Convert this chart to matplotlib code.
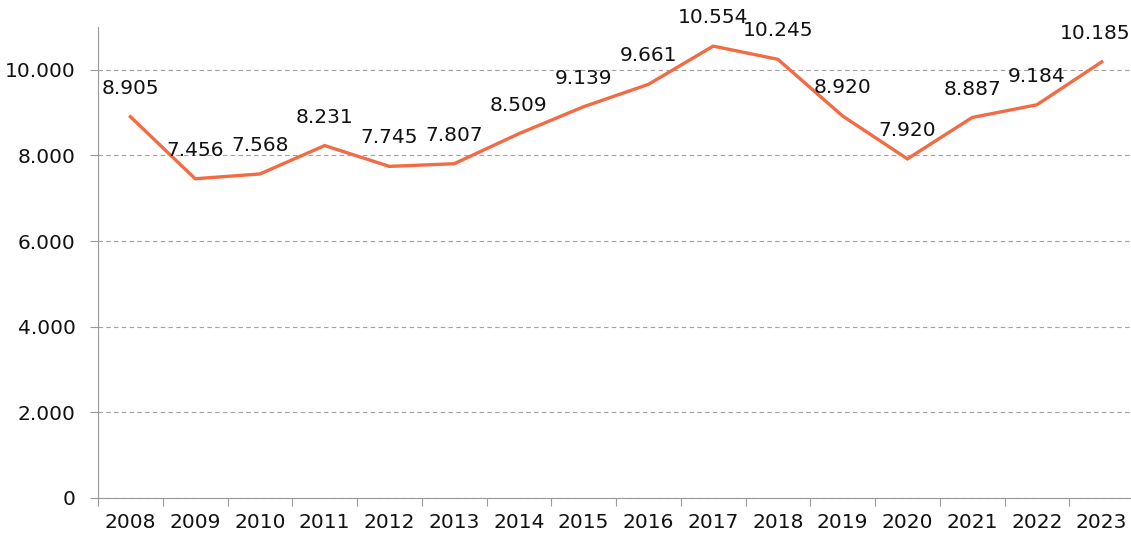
import matplotlib
matplotlib.use('Agg')
import matplotlib.pyplot as plt

years=['2008','2009','2010','2011','2012','2013','2014','2015','2016','2017','2018','2019','2020','2021','2022','2023']
values=[8905,7456,7568,8231,7745,7807,8509,9139,9661,10554,10245,8920,7920,8887,9184,10185]
yticks=[0,2000,4000,6000,8000,10000]

def fmt(v):                 # thousands separator as dot
    return f"{v:,}".replace(',','.')

fig=plt.figure(figsize=(11.31,5.36),dpi=100)
ax=fig.add_axes([0.0867,0.0709,0.9160,0.8787])

x=list(range(len(years)))
ax.plot(x,values,color='#F26B43',linewidth=2.4,solid_joinstyle='miter',zorder=3)

for i,v in zip(x,values):
    dx=-5 if i==len(years)-1 else 0     # keep last label inside the figure
    ax.annotate(fmt(v),(i,v),xytext=(dx,20.5),textcoords='offset points',
                ha='center',va='center',fontsize=14.5,color='#111111')

ax.set_xlim(-0.5,len(years)-0.5)
ax.set_ylim(0,11000)
ax.set_yticks(yticks)
ax.set_yticklabels([fmt(v) for v in yticks])
ax.yaxis.grid(True,linestyle=(0,(4,3)),color='#a0a0a0',linewidth=0.8)
ax.set_axisbelow(True)

# category ticks between years, labels centred
ax.set_xticks([i-0.5 for i in range(len(years)+1)])
ax.set_xticklabels([])
ax.set_xticks(x,minor=True)
ax.set_xticklabels(years,minor=True)
ax.tick_params(axis='x',which='minor',length=0,pad=11,labelsize=14.5,labelcolor='#111111')
ax.tick_params(axis='x',which='major',length=6,color='#999999')
ax.tick_params(axis='y',length=6,color='#999999',labelsize=14.5,pad=10,labelcolor='#111111')

for s in ['top','right']:
    ax.spines[s].set_visible(False)
for s in ['left','bottom']:
    ax.spines[s].set_color('#999999')

fig.savefig('out.png',dpi=100)
